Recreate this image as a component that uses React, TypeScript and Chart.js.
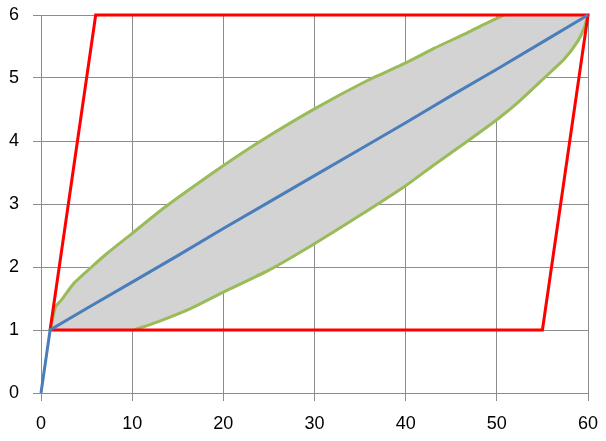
import React, { useEffect, useRef } from "react";
import { Chart, registerables } from "chart.js";

Chart.register(...registerables);

// Tick labels
const xTicks = [0, 10, 20, 30, 40, 50, 60];
const yTicks = [0, 1, 2, 3, 4, 5, 6];

// Red parallelogram
const redX = [1, 6, 60, 55, 1];
const redY = [1, 6, 6, 1, 1];

// Blue line
const blueX = [0, 1, 5, 10, 15, 20, 25, 30, 35, 40, 45, 50, 55, 60];
const blueY = [0, 1, 1.34, 1.76, 2.18, 2.61, 3.03, 3.45, 3.87, 4.29, 4.72, 5.14, 5.57, 6];

// Upper green curve
const upperX = [1, 1.6, 2.2, 3.6, 5.4, 7.2, 9.8, 12.7, 15.3, 19.7, 24.1, 30, 35.8, 40, 43.1, 46.8, 48.6, 50.8];
const upperY = [1, 1.37, 1.47, 1.74, 1.98, 2.21, 2.51, 2.85, 3.13, 3.58, 4.0, 4.51, 4.96, 5.24, 5.47, 5.72, 5.85, 6.0];

// Lower green curve
const lowerX = [10.2, 12.8, 16.4, 20, 25, 30, 35, 40, 43.1, 46.8, 50.1, 52.3, 55.2, 57.4, 58.9, 59.6, 60];
const lowerY = [1.0, 1.13, 1.34, 1.6, 1.95, 2.37, 2.82, 3.29, 3.62, 4.0, 4.35, 4.61, 5.0, 5.3, 5.59, 5.8, 6.0];

const pts = (xs: number[], ys: number[]) => xs.map((x, i) => ({ x, y: ys[i] }));

export default function App() {
  const ref = useRef<HTMLCanvasElement | null>(null);
  useEffect(() => {
    document.body.style.margin = "0";
    const upper = pts(upperX, upperY);
    const lower = pts(lowerX, lowerY);
    const fillTop = [...upper, { x: 60, y: 6 }];
    const fillBottom = [{ x: 1, y: 1 }, ...lower];
    const font = { family: '"Liberation Sans", sans-serif', size: 18 };
    const grid = { color: "#8c8c8c", lineWidth: 1, tickLength: 8, tickColor: "#8c8c8c" };
    const t = 0.2;
    const chart = new Chart(ref.current!, {
      type: "line",
      data: {
        datasets: [
          { data: pts(blueX, blueY), borderColor: "#4a7ebb", borderWidth: 3, pointRadius: 0, fill: false, order: 0, clip: false } as any,
          { data: pts(redX, redY), borderColor: "#ff0000", borderWidth: 3, pointRadius: 0, fill: false, order: 1, clip: false } as any,
          { data: upper, borderColor: "#9bbb59", borderWidth: 3, pointRadius: 0, fill: false, order: 2, clip: false, tension: t } as any,
          { data: lower, borderColor: "#9bbb59", borderWidth: 3, pointRadius: 0, fill: false, order: 3, clip: false, tension: t } as any,
          { data: fillTop, borderWidth: 0, borderColor: "rgba(0,0,0,0)", backgroundColor: "rgb(211,211,211)", pointRadius: 0, fill: "+1", order: 4, clip: false, tension: t } as any,
          { data: fillBottom, borderWidth: 0, borderColor: "rgba(0,0,0,0)", pointRadius: 0, fill: false, order: 5, clip: false, tension: t } as any,
        ],
      },
      options: {
        animation: false,
        responsive: false,
        events: [],
        layout: { padding: { left: 0, top: 15, right: 18, bottom: 0 } },
        plugins: { legend: { display: false }, tooltip: { enabled: false } },
        scales: {
          x: {
            type: "linear",
            min: 0,
            max: 60,
            afterBuildTicks: (s: any) => { s.ticks = xTicks.map((v) => ({ value: v })); },
            afterFit: (s: any) => { s.height = 48; s.paddingLeft = 0; s.paddingRight = 0; s.paddingTop = 0; s.paddingBottom = 0; },
            ticks: { font, color: "#000", padding: 12, maxRotation: 0 },
            grid,
            border: { color: "#8c8c8c", width: 1 },
          },
          y: {
            type: "linear",
            min: 0,
            max: 6,
            afterBuildTicks: (s: any) => { s.ticks = yTicks.map((v) => ({ value: v })); },
            afterFit: (s: any) => { s.width = 41; s.paddingLeft = 0; s.paddingRight = 0; s.paddingTop = 0; s.paddingBottom = 0; },
            ticks: { font, color: "#000", padding: 14 },
            grid,
            border: { color: "#8c8c8c", width: 1 },
          },
        },
      },
    });
    return () => chart.destroy();
  }, []);
  return <canvas ref={ref} width={606} height={441} style={{ display: "block", width: 606, height: 441 }} />;
}
